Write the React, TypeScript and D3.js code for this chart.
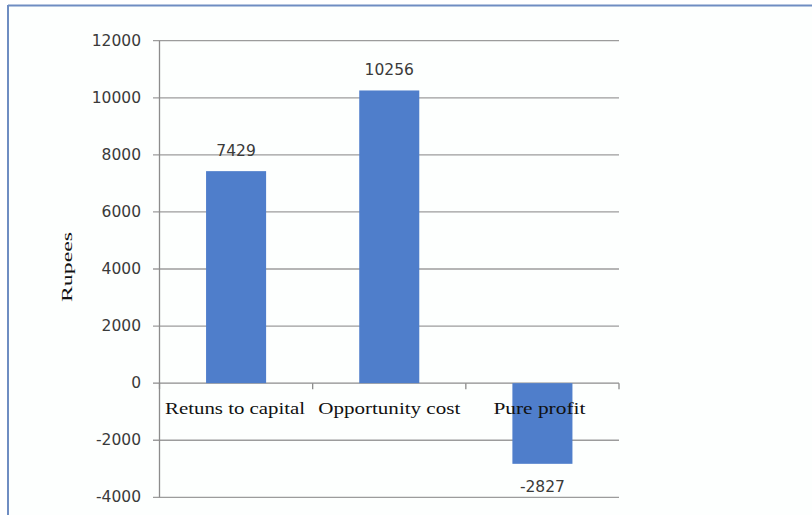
import React from "react";
import * as d3 from "d3";

const categories = ["Retuns to capital", "Opportunity cost", "Pure profit"];
const values = [7429, 10256, -2827];
const yTicks = [-4000, -2000, 0, 2000, 4000, 6000, 8000, 10000, 12000];
const yTitle = "Rupees";

const W = 812;
const H = 515;

export default function App() {
  const y = d3.scaleLinear().domain([-4000, 12000]).range([497.3, 40.7]);
  const x = d3
    .scaleBand<string>()
    .domain(categories)
    .range([159.5, 619])
    .paddingInner(0.608)
    .paddingOuter(0.304);
  const y0 = y(0);
  const catLen = [140, 142, 92];
  const tickXs = [0, 1, 2, 3].map((i) => 159.5 + (x.range()[1] - 159.5) * (i / 3));

  return (
    <svg
      width={W}
      height={H}
      style={{ position: "absolute", left: 0, top: 0, background: "#ffffff" }}
    >
      <rect x={8} y={5} width={W - 8} height={H - 5} fill="#fdfffe" />
      <line x1={8} y1={5.5} x2={W} y2={5.5} stroke="#6f8dc2" strokeWidth={2} />
      <line x1={8} y1={5} x2={8} y2={H} stroke="#6f8dc2" strokeWidth={2} />

      {yTicks.map((t) => (
        <g key={t}>
          <line
            x1={153}
            x2={619}
            y1={y(t)}
            y2={y(t)}
            stroke={t === 0 ? "#8c8c8c" : "#9c9c9c"}
            strokeWidth={1.3}
          />
          <text
            x={141}
            y={y(t)}
            dominantBaseline="central"
            textAnchor="end"
            fontFamily="DejaVu Sans"
            fontSize={15.5}
            fill="#3a3a3a"
          >
            {t}
          </text>
        </g>
      ))}
      <line x1={159.5} x2={159.5} y1={y(12000)} y2={y(-4000)} stroke="#8c8c8c" strokeWidth={1.3} />
      {tickXs.map((tx, i) => (
        <line key={i} x1={tx} x2={tx} y1={y0} y2={y0 + 6} stroke="#8c8c8c" strokeWidth={1.3} />
      ))}

      {categories.map((c, i) => {
        const v = values[i];
        const bx = x(c)!;
        const top = y(Math.max(0, v));
        const bot = y(Math.min(0, v));
        const cx = bx + x.bandwidth() / 2;
        return (
          <g key={c}>
            <rect x={bx} y={top} width={x.bandwidth()} height={bot - top} fill="#4f7ecb" />
            <text
              x={cx}
              y={v >= 0 ? top - 20 : bot + 23}
              dominantBaseline="central"
              textAnchor="middle"
              fontFamily="DejaVu Sans"
              fontSize={15.5}
              fill="#3a3a3a"
            >
              {v}
            </text>
          </g>
        );
      })}

      {categories.map((c, i) => {
        const cx = x(c)! + x.bandwidth() / 2;
        const adj = i === 2 ? -3 : i === 0 ? -1 : 0;
        return (
          <text
            key={c}
            x={cx + adj - catLen[i] / 2}
            y={414}
            fontFamily="Liberation Serif"
            fontSize={16}
            fill="#111"
            textLength={catLen[i]}
            lengthAdjust="spacingAndGlyphs"
          >
            {c}
          </text>
        );
      })}

      <text
        transform={`translate(72,${302}) rotate(-90)`}
        fontFamily="Liberation Serif"
        fontSize={14.5}
        fill="#111"
        textLength={70}
        lengthAdjust="spacingAndGlyphs"
      >
        {yTitle}
      </text>
    </svg>
  );
}
